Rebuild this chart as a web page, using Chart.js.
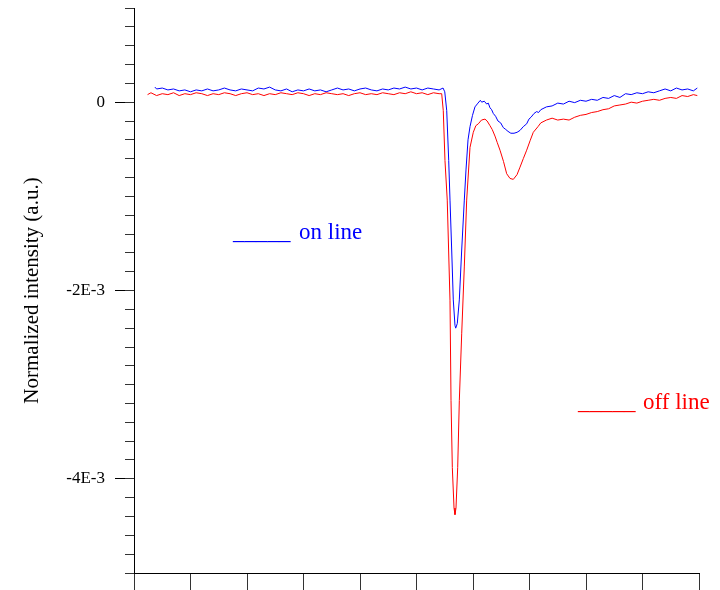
<!DOCTYPE html>
<html>
<head>
<meta charset="utf-8">
<script src="https://cdn.jsdelivr.net/npm/chart.js@4"></script>
<style>
  html, body { margin: 0; padding: 0; background: #ffffff; }
  #wrap { width: 720px; height: 590px; position: relative; }
</style>
</head>
<body>
<div id="wrap"><canvas id="c" width="720" height="590"></canvas></div>
<script>
// Values are in units of 1E-3 (normalized intensity, a.u.)
const onLineX = [
  0.37, 0.4, 0.5, 0.6, 0.7, 0.8, 0.9, 1.0, 1.1, 1.2, 1.3, 1.4, 1.5, 1.6, 1.7, 1.8, 1.9, 2.0,
  2.1, 2.2, 2.3, 2.4, 2.5, 2.6, 2.7, 2.8, 2.9, 3.0, 3.1, 3.2, 3.3, 3.4, 3.5, 3.6, 3.7, 3.8,
  3.9, 4.0, 4.1, 4.2, 4.3, 4.4, 4.5, 4.6, 4.7, 4.8, 4.9, 5.0, 5.1, 5.2, 5.3, 5.4,
  5.47, 5.50, 5.535, 5.570, 5.593, 5.623, 5.651, 5.681, 5.694, 5.722, 5.758, 5.800, 5.846,
  5.876, 5.912, 5.947, 5.991, 6.035, 6.088, 6.13, 6.154, 6.20, 6.242, 6.27, 6.301, 6.33,
  6.359, 6.40, 6.442, 6.49, 6.536, 6.58, 6.619, 6.67, 6.726, 6.78, 6.832, 6.89, 6.950,
  6.99, 7.027, 7.08, 7.127, 7.16,
  7.2, 7.3, 7.4, 7.5, 7.6, 7.7, 7.8, 7.9, 8.0, 8.1, 8.2, 8.3, 8.4, 8.5, 8.6, 8.7, 8.8,
  8.9, 9.0, 9.1, 9.2, 9.3, 9.4, 9.5, 9.6, 9.7, 9.8, 9.9, 9.97
];
const onLineY = [
  0.16, 0.14, 0.15, 0.13, 0.14, 0.12, 0.13, 0.11, 0.13, 0.12, 0.14, 0.12, 0.13, 0.15, 0.13, 0.12, 0.14, 0.13,
  0.12, 0.15, 0.14, 0.16, 0.13, 0.12, 0.14, 0.11, 0.13, 0.12, 0.14, 0.12, 0.13, 0.11, 0.13, 0.15, 0.13, 0.14,
  0.12, 0.14, 0.15, 0.13, 0.12, 0.14, 0.13, 0.15, 0.14, 0.16, 0.14, 0.15, 0.13, 0.15, 0.14, 0.13,
  0.15, 0.11, -0.09, -0.62, -1.04, -1.57, -2.10, -2.37, -2.40, -2.35, -2.10, -1.57, -1.04,
  -0.72, -0.40, -0.26, -0.14, -0.05, -0.01, 0.02, 0.00, 0.01, -0.02, -0.01, -0.06, -0.08,
  -0.12, -0.15, -0.20, -0.22, -0.27, -0.29, -0.31, -0.33, -0.33, -0.32, -0.30, -0.26, -0.23,
  -0.18, -0.16, -0.12, -0.10, -0.11,
  -0.08, -0.05, -0.04, -0.01, -0.02, 0.01, -0.005, 0.02, 0.01, 0.03, 0.02, 0.05, 0.04, 0.07, 0.05, 0.09, 0.08,
  0.10, 0.09, 0.11, 0.10, 0.12, 0.14, 0.12, 0.15, 0.13, 0.14, 0.12, 0.15
];
const offLineX = [
  0.24, 0.3, 0.4, 0.5, 0.6, 0.7, 0.8, 0.9, 1.0, 1.1, 1.2, 1.3, 1.4, 1.5, 1.6, 1.7, 1.8, 1.9, 2.0,
  2.1, 2.2, 2.3, 2.4, 2.5, 2.6, 2.7, 2.8, 2.9, 3.0, 3.1, 3.2, 3.3, 3.4, 3.5, 3.6, 3.7, 3.8,
  3.9, 4.0, 4.1, 4.2, 4.3, 4.4, 4.5, 4.6, 4.7, 4.8, 4.9, 5.0, 5.1, 5.2, 5.3, 5.4,
  5.446, 5.474, 5.504, 5.544, 5.593, 5.611, 5.634, 5.664, 5.681, 5.699, 5.729, 5.758, 5.800,
  5.846, 5.888, 5.947, 6.005, 6.05, 6.094, 6.15, 6.212, 6.25, 6.301, 6.34, 6.389, 6.43,
  6.478, 6.54, 6.596, 6.655, 6.713, 6.779, 6.832, 6.89, 6.950, 7.01, 7.067, 7.15,
  7.2, 7.3, 7.4, 7.5, 7.6, 7.7, 7.8, 7.9, 8.0, 8.1, 8.2, 8.3, 8.4, 8.5, 8.6, 8.7, 8.8,
  8.9, 9.0, 9.1, 9.2, 9.3, 9.4, 9.5, 9.6, 9.7, 9.8, 9.9, 9.97
];
const offLineY = [
  0.08, 0.10, 0.07, 0.09, 0.08, 0.10, 0.07, 0.09, 0.08, 0.10, 0.09, 0.07, 0.09, 0.08, 0.10, 0.09, 0.07, 0.09, 0.10,
  0.08, 0.09, 0.07, 0.09, 0.08, 0.10, 0.09, 0.08, 0.10, 0.09, 0.07, 0.09, 0.08, 0.10, 0.09, 0.08, 0.09, 0.07,
  0.09, 0.10, 0.08, 0.09, 0.08, 0.10, 0.09, 0.08, 0.10, 0.09, 0.11, 0.09, 0.10, 0.08, 0.10, 0.09,
  0.09, -0.09, -0.62, -1.04, -2.11, -3.17, -3.88, -4.31, -4.38, -4.31, -3.88, -3.17, -2.46,
  -1.75, -1.04, -0.48, -0.32, -0.25, -0.23, -0.19, -0.18, -0.20, -0.25, -0.29, -0.36, -0.43,
  -0.51, -0.63, -0.76, -0.81, -0.82, -0.77, -0.69, -0.60, -0.51, -0.41, -0.32, -0.26,
  -0.22, -0.19, -0.17, -0.19, -0.18, -0.19, -0.16, -0.14, -0.13, -0.11, -0.10, -0.08, -0.07, -0.04, -0.03, -0.02, 0.00,
  -0.01, 0.01, 0.02, 0.03, 0.02, 0.04, 0.05, 0.04, 0.07, 0.06, 0.08, 0.07
];
const yMajorTicks = [-4, -2, 0];
const yRange = [-5, 1];
const xRange = [0, 10];
const seriesLabels = ['on line', 'off line'];
const yTitle = 'Normalized intensity (a.u.)';

const SERIF = '"Liberation Serif", "Times New Roman", serif';
const toPts = (xs, ys) => xs.map((x, i) => ({ x: x, y: ys[i] }));
const noPad = (s) => { s.paddingTop = 0; s.paddingBottom = 0; s.paddingLeft = 0; s.paddingRight = 0; };

const textPlugin = {
  id: 'lineLabels',
  afterDraw(chart) {
    const ctx = chart.ctx;
    ctx.save();
    ctx.font = '23px ' + SERIF;
    ctx.textBaseline = 'alphabetic';
    ctx.textAlign = 'left';
    ctx.fillStyle = '#0000ff';
    ctx.fillText('_____', 233, 239);
    ctx.fillText(seriesLabels[0], 299, 239);
    ctx.fillStyle = '#ff0000';
    ctx.fillText('_____', 578, 409);
    ctx.fillText(seriesLabels[1], 643, 409);
    ctx.restore();
  }
};

new Chart(document.getElementById('c'), {
  type: 'line',
  data: {
    datasets: [
      { label: seriesLabels[1], data: toPts(offLineX, offLineY), borderColor: '#ff0000', borderWidth: 1, pointRadius: 0, tension: 0, fill: false },
      { label: seriesLabels[0], data: toPts(onLineX, onLineY), borderColor: '#0000ff', borderWidth: 1, pointRadius: 0, tension: 0, fill: false }
    ]
  },
  options: {
    responsive: false,
    animation: false,
    layout: { padding: { top: 8, right: 21, left: 0, bottom: 0 } },
    plugins: { legend: { display: false }, tooltip: { enabled: false } },
    scales: {
      x: {
        type: 'linear', min: xRange[0], max: xRange[1],
        ticks: { display: false, stepSize: 1 },
        grid: { drawOnChartArea: false, drawTicks: true, tickLength: 17, color: '#000000', tickColor: '#333333' },
        border: { display: true, color: '#000000', width: 1 },
        afterFit: (s) => { s.height = 17; noPad(s); }
      },
      y: {
        type: 'linear', position: 'left', weight: 1, min: yRange[0], max: yRange[1],
        afterBuildTicks: (s) => { s.ticks = yMajorTicks.map(v => ({ value: v })); },
        ticks: {
          color: '#000000', padding: 10,
          font: { family: SERIF, size: 17 },
          callback: (v) => (v === 0 ? '0' : v + 'E-3')
        },
        grid: { drawOnChartArea: false, drawTicks: true, tickLength: 19, tickColor: '#000000' },
        border: { display: true, color: '#000000', width: 1 },
        title: { display: true, text: yTitle, color: '#000000', font: { family: SERIF, size: 21 }, padding: { top: 20, bottom: 0 } },
        afterFit: (s) => { s.width = 134; noPad(s); }
      },
      yMinor: {
        type: 'linear', position: 'left', weight: 0, min: yRange[0], max: yRange[1],
        ticks: { display: false, stepSize: 0.2 },
        grid: { drawOnChartArea: false, drawTicks: true, tickLength: 9, tickColor: '#333333' },
        border: { display: true, color: '#000000', width: 1 },
        afterFit: (s) => { s.width = 0; noPad(s); }
      }
    }
  },
  plugins: [textPlugin]
});
</script>
</body>
</html>
